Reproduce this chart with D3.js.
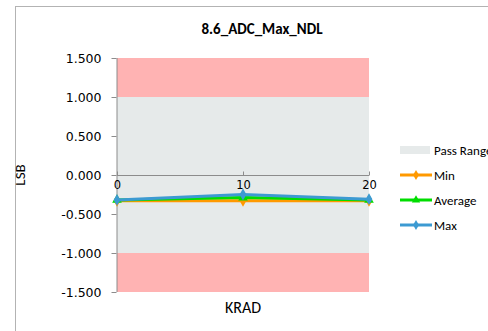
<!DOCTYPE html>
<html>
<head>
<meta charset="utf-8">
<script src="https://cdn.jsdelivr.net/npm/d3@7"></script>
<style>
body { margin: 0; background: #fff; }
text { font-family: Calibri, Carlito, "Open Sans", "DejaVu Sans", sans-serif; }
.tick text { font-family: Tahoma, "DejaVu Sans", sans-serif; }
</style>
</head>
<body>
<div id="graph"></div>
<script>
var krad = [0, 10, 20];
var minVals = [-0.33, -0.33, -0.33];
var avgVals = [-0.32, -0.29, -0.32];
var maxVals = [-0.32, -0.25, -0.31];
var yTicks = [1.5, 1.0, 0.5, 0.0, -0.5, -1.0, -1.5];
var passRange = [-1.0, 1.0];
var limits = [-1.5, 1.5];

var series = [
    { name: "Min", values: minVals, color: "#ff9900", symbol: d3.symbolDiamond },
    { name: "Average", values: avgVals, color: "#00dd00", symbol: d3.symbolTriangle },
    { name: "Max", values: maxVals, color: "#3c9ad2", symbol: d3.symbolDiamond }
];

var W = 488, H = 331;
var plot = { left: 117, right: 369, top: 58, bottom: 292 };

var svg = d3.select("#graph")
    .append("svg")
    .attr("width", W)
    .attr("height", H);

// chart frame
svg.append("rect")
    .attr("x", 15.5).attr("y", 6.5)
    .attr("width", 500).attr("height", 340)
    .attr("fill", "#fff")
    .attr("stroke", "#b3b3b3");

var x = d3.scaleLinear().domain([0, 20]).range([plot.left, plot.right]);
var y = d3.scaleLinear().domain(limits).range([plot.bottom, plot.top]);

// fail bands and pass range
svg.append("rect")
    .attr("x", x(0)).attr("y", y(limits[1]))
    .attr("width", x(20) - x(0)).attr("height", y(passRange[1]) - y(limits[1]))
    .attr("fill", "#ffb3b3");
svg.append("rect")
    .attr("x", x(0)).attr("y", y(passRange[1]))
    .attr("width", x(20) - x(0)).attr("height", y(passRange[0]) - y(passRange[1]))
    .attr("fill", "#e6eaea");
svg.append("rect")
    .attr("x", x(0)).attr("y", y(passRange[0]))
    .attr("width", x(20) - x(0)).attr("height", y(limits[0]) - y(passRange[0]))
    .attr("fill", "#ffb3b3");

// y axis
var yAxis = svg.append("g")
    .attr("transform", "translate(" + (plot.left - 0.5) + ",0)")
    .call(d3.axisLeft(y).tickValues(yTicks).tickSize(5).tickPadding(10)
        .tickFormat(function (d) { return d.toFixed(3); }));
yAxis.select(".domain").attr("stroke", "#8c8c8c").attr("d", "M0.5," + plot.top + "V" + plot.bottom);
yAxis.selectAll(".tick line").attr("stroke", "#8c8c8c");
yAxis.selectAll(".tick text").attr("font-size", 12.5).attr("fill", "#000").attr("dy", "0.35em");

// x axis at zero
var xAxis = svg.append("g")
    .attr("transform", "translate(0," + (y(0) + 0.5) + ")")
    .call(d3.axisBottom(x).tickValues(krad).tickSize(-4).tickPadding(5));
xAxis.select(".domain").attr("stroke", "#8c8c8c").attr("d", "M" + plot.left + ",0H" + plot.right);
xAxis.selectAll(".tick line").attr("stroke", "#8c8c8c");
xAxis.selectAll(".tick text").attr("font-size", 11.5).attr("fill", "#000");

// series
var line = d3.line()
    .x(function (d, i) { return x(krad[i]); })
    .y(function (d) { return y(d); });

series.forEach(function (s) {
    svg.append("path")
        .datum(s.values)
        .attr("fill", "none")
        .attr("stroke", s.color)
        .attr("stroke-width", 3)
        .attr("d", line);
    svg.selectAll(null)
        .data(s.values)
        .enter()
        .append("path")
        .attr("transform", function (d, i) { return "translate(" + x(krad[i]) + "," + y(d) + ")"; })
        .attr("d", d3.symbol().type(s.symbol).size(40))
        .attr("fill", s.color);
});

// title
svg.append("text")
    .attr("x", 262).attr("y", 34)
    .attr("text-anchor", "middle")
    .attr("font-size", 15).attr("font-weight", "bold")
    .text("8.6_ADC_Max_NDL");

// axis titles
svg.append("text")
    .attr("x", 243).attr("y", 313)
    .attr("text-anchor", "middle")
    .attr("font-size", 16)
    .text("KRAD");
svg.append("text")
    .attr("transform", "translate(25," + y(0) + ") rotate(-90)")
    .attr("text-anchor", "middle")
    .attr("font-size", 15)
    .text("LSB");

// legend
var lg = svg.append("g").attr("transform", "translate(400,150)");
lg.append("rect").attr("x", 0).attr("y", -4).attr("width", 30).attr("height", 8).attr("fill", "#e6eaea");
lg.append("text").attr("x", 34).attr("y", 0).attr("dy", "0.35em").attr("font-size", 13).text("Pass Range");
series.forEach(function (s, i) {
    var g = lg.append("g").attr("transform", "translate(0," + (25 * (i + 1)) + ")");
    g.append("line").attr("x1", 0).attr("x2", 32).attr("stroke", s.color).attr("stroke-width", 3);
    g.append("path").attr("transform", "translate(16,0)")
        .attr("d", d3.symbol().type(s.symbol).size(30)).attr("fill", s.color);
    g.append("text").attr("x", 34).attr("y", 0).attr("dy", "0.35em").attr("font-size", 13).text(s.name);
});
</script>
</body>
</html>
